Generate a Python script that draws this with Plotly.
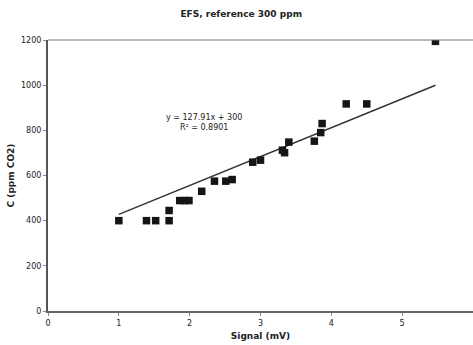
import plotly.graph_objects as go

signal_mv = [1.0, 1.39, 1.52, 1.71, 1.71, 1.86, 1.93, 1.99, 2.17, 2.35, 2.51, 2.60,
             2.89, 3.00, 3.31, 3.34, 3.40, 3.76, 3.85, 3.87, 4.21, 4.50, 5.47]
conc_ppm = [400, 400, 400, 400, 445, 489, 489, 489, 530, 575, 575, 582,
            659, 668, 712, 701, 748, 752, 790, 830, 917, 917, 1194]
slope = 127.91
intercept = 300
r_squared = 0.8901
x_ticks = [0, 1, 2, 3, 4, 5, 6]
y_ticks = [0, 200, 400, 600, 800, 1000, 1200]

fit_x = [min(signal_mv), max(signal_mv)]
fit_y = [slope * v + intercept for v in fit_x]

font = "DejaVu Sans"
fig = go.Figure()
fig.add_trace(go.Scatter(x=fit_x, y=fit_y, mode="lines",
                         line=dict(color="#333333", width=1.5), showlegend=False))
fig.add_trace(go.Scatter(x=signal_mv, y=conc_ppm, mode="markers",
                         marker=dict(symbol="square", size=7.5, color="#151515",
                                     line=dict(width=0)), showlegend=False))

fig.add_annotation(x=2.2, y=833, xref="x", yref="y",
                   text=f"y = {slope}x + {intercept}<br>R² = {r_squared}", showarrow=False,
                   font=dict(family=font, size=8, color="#222222"), align="center")

fig.update_layout(
    width=473, height=345,
    margin=dict(l=48, r=0, t=40, b=34),
    paper_bgcolor="white", plot_bgcolor="white",
    title=dict(text="<b>EFS, reference 300 ppm</b>", x=0.51, xanchor="center",
               y=0.96, yanchor="middle",
               font=dict(family=font, size=9, color="#222222")),
    xaxis=dict(range=[0, 6], tickvals=x_ticks, showgrid=False, zeroline=False,
               showline=True, linecolor="#666666", linewidth=2, mirror=False,
               ticks="outside", ticklen=3, tickcolor="#888888",
               tickfont=dict(family=font, size=8, color="#222222"),
               title=dict(text="<b>Signal (mV)</b>", standoff=6,
                          font=dict(family=font, size=9, color="#222222")),
               automargin=False),
    yaxis=dict(range=[0, 1200], tickvals=y_ticks, showgrid=False, zeroline=False,
               showline=True, linecolor="#555555", linewidth=2,
               ticks="outside", ticklen=3, tickcolor="#888888",
               tickfont=dict(family=font, size=8, color="#222222"),
               title=dict(text="<b>C (ppm CO2)</b>", standoff=5,
                          font=dict(family=font, size=9, color="#222222")),
               automargin=False),
    shapes=[dict(type="line", xref="paper", yref="paper", x0=0, x1=1, y0=1, y1=1,
                 line=dict(color="#777777", width=1))],
)

fig.write_html("out.html", config={"displayModeBar": False},
               post_script="document.body.style.margin='0';document.body.style.overflow='hidden';")
